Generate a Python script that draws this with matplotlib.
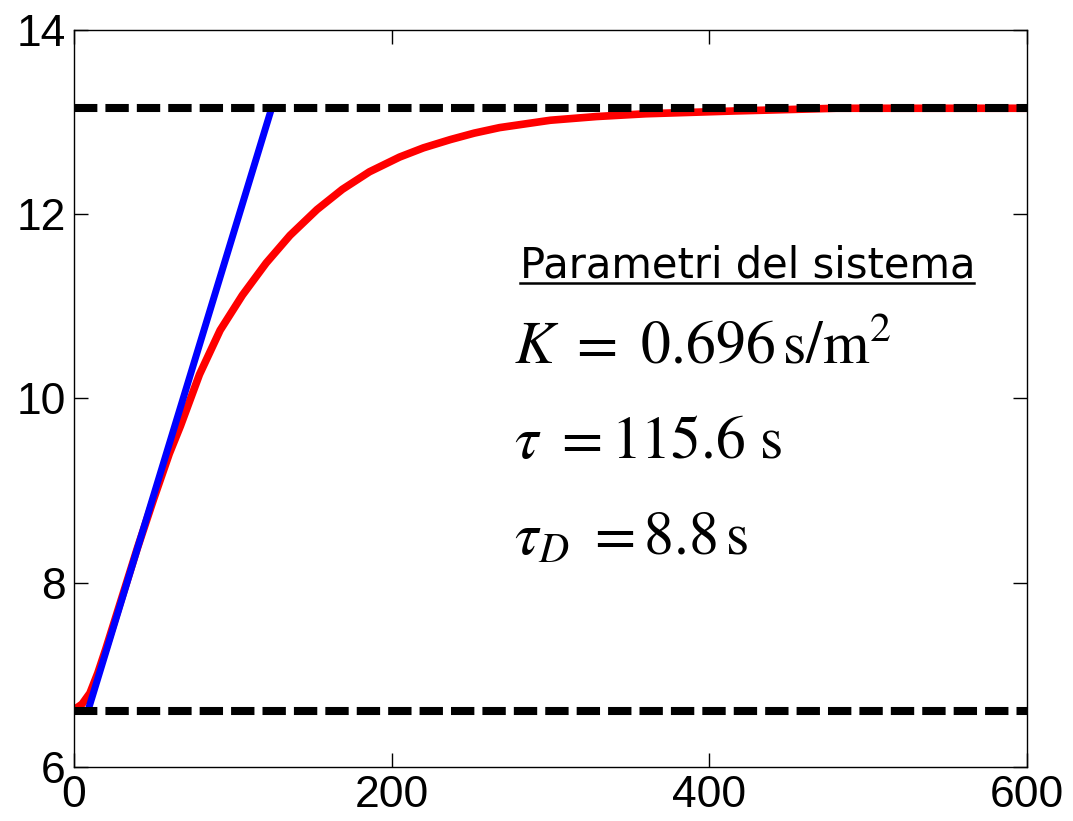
import matplotlib
matplotlib.use("Agg")
import matplotlib.pyplot as plt

t_resp = [0, 5, 10, 15, 20, 30, 40, 50, 60, 67, 79, 92, 106, 121, 136, 153,
          169, 186, 205, 220, 237, 252, 268, 284, 300, 329, 360, 415, 480, 600]
y_resp = [6.62, 6.68, 6.80, 7.02, 7.28, 7.83, 8.38, 8.90, 9.40, 9.70, 10.26,
          10.74, 11.12, 11.47, 11.77, 12.05, 12.27, 12.46, 12.62, 12.72, 12.81,
          12.88, 12.94, 12.98, 13.02, 13.06, 13.09, 13.12, 13.15, 13.15]

# tangent line
t_tan = [8.8, 124.4]
y_tan = [6.61, 13.15]

y_low = 6.61
y_high = 13.15

xticks = [0, 200, 400, 600]
yticks = [6, 8, 10, 12, 14]

plt.rcParams["mathtext.fontset"] = "stix"

fig = plt.figure(figsize=(10.73, 8.21), dpi=100)
ax = fig.add_axes([0.069, 0.066, 0.888, 0.8975])

ax.plot(t_resp, y_resp, color="red", lw=5.5, solid_capstyle="butt",
        solid_joinstyle="round")
ax.plot(t_tan, y_tan, color="blue", lw=5, solid_capstyle="butt")
ax.axhline(y_low, color="black", lw=5.8, dashes=(2.9, 1.0))
ax.axhline(y_high, color="black", lw=5.8, dashes=(2.9, 1.0))

ax.set_xlim(0, 600)
ax.set_ylim(6, 14)
ax.set_xticks(xticks)
ax.set_yticks(yticks)
ax.tick_params(direction="in", length=10, width=1, top=True, right=True,
               labelsize=32, pad=6)
for lab in ax.get_xticklabels() + ax.get_yticklabels():
    lab.set_fontfamily("Liberation Sans")
for s in ax.spines.values():
    s.set_linewidth(1)

# annotation
ax.text(281, 11.31, "Parametri del sistema", fontsize=30,
        family="DejaVu Sans", ha="left", va="baseline")
ax.plot([281, 567], [11.25, 11.25], color="black", lw=1.8)

ax.text(277, 10.395, r"$K\ =\ 0.696\,\mathrm{s/m^2}$", fontsize=43,
        ha="left", va="baseline")
ax.text(277, 9.353, r"$\tau\ =115.6\ \mathrm{s}$", fontsize=43,
        ha="left", va="baseline")
ax.text(277, 8.30, r"$\tau_D\ =8.8\,\mathrm{s}$", fontsize=43,
        ha="left", va="baseline")

fig.savefig("out.png", dpi=100)
